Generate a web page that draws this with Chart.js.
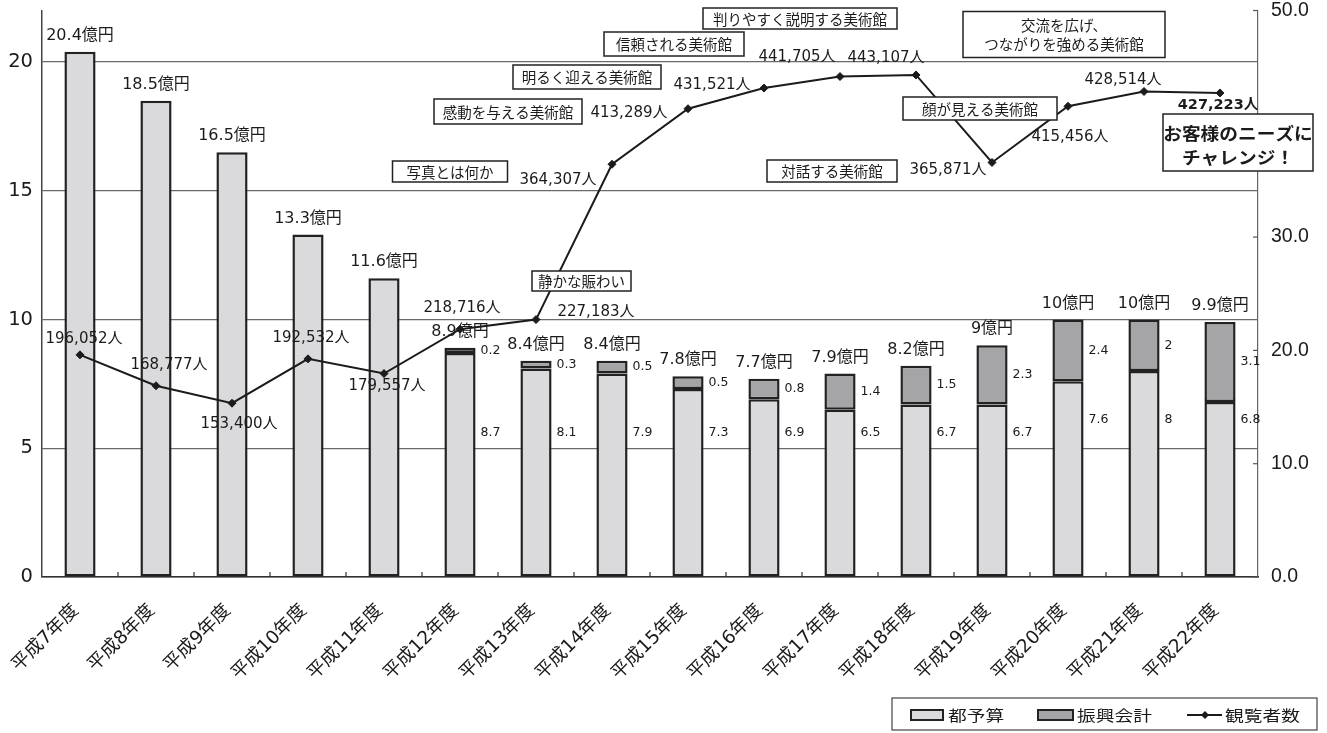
<!DOCTYPE html>
<html lang="ja">
<head>
<meta charset="utf-8">
<title>予算と観覧者数の推移</title>
<script src="https://cdn.jsdelivr.net/npm/chart.js@4.4.1/dist/chart.umd.min.js"></script>
<style>
  html, body { margin: 0; padding: 0; background: #fff; }
  #wrap { width: 1327px; height: 733px; }
</style>
</head>
<body>
<div id="wrap"><canvas id="chart" width="1327" height="733"></canvas></div>
<script>
// ---- data ----
const categories = ['平成7年度', '平成8年度', '平成9年度', '平成10年度', '平成11年度', '平成12年度',
  '平成13年度', '平成14年度', '平成15年度', '平成16年度', '平成17年度', '平成18年度',
  '平成19年度', '平成20年度', '平成21年度', '平成22年度'];
// 都予算 (億円)
const cityBudget = [20.4, 18.5, 16.5, 13.3, 11.6, 8.7, 8.1, 7.9, 7.3, 6.9, 6.5, 6.7, 6.7, 7.6, 8, 6.8];
// 振興会計 (億円)
const promotionFund = [null, null, null, null, null, 0.2, 0.3, 0.5, 0.5, 0.8, 1.4, 1.5, 2.3, 2.4, 2, 3.1];
// 観覧者数 (人)
const visitors = [196052, 168777, 153400, 192532, 179557, 218716, 227183, 364307,
  413289, 431521, 441705, 443107, 365871, 415456, 428514, 427223];
const leftTicks = [0, 5, 10, 15, 20];
const rightTicks = [0, 10, 20, 30, 40, 50];
// yearly themes
const themes = [
  ['静かな賑わい'],
  ['写真とは何か'],
  ['感動を与える美術館'],
  ['明るく迎える美術館'],
  ['信頼される美術館'],
  ['判りやすく説明する美術館'],
  ['対話する美術館'],
  ['顔が見える美術館'],
  ['交流を広げ、', 'つながりを強める美術館'],
  ['お客様のニーズに', 'チャレンジ！']
];
const legendLabels = ['都予算', '振興会計', '観覧者数'];

// ---- styles & layout ----
const INK = '#1b1b1b';
const NUM_FONT = '"DejaVu Sans", "Noto Sans CJK JP", sans-serif';
const ARIAL = '"Liberation Sans", "Noto Sans CJK JP", sans-serif';
const JP_FONT = '"Noto Sans CJK JP", sans-serif';
const LIGHT = '#dadadc';
const DARK = '#a5a5a7';
const PLOT = { left: 42, right: 1258, top: 10.5, bottom: 577 };

// label offsets around each visitor point (px)
const visitorLabelOffsets = [
  [4, -16], [13, -21], [7, 21], [3, -21], [3, 13], [2, -21], [60, -7], [-54, 16],
  [-59, 4], [-52, -3], [-43, -19], [-30, -17], [-44, 8], [2, 31], [-21, -11], [-2, 12]
];
// theme box placement (center x, center y, width, height)
const themeBoxLayout = [
  { cx: 581.5, cy: 281, w: 99, h: 20 },
  { cx: 450, cy: 171.5, w: 115, h: 21 },
  { cx: 508, cy: 111.5, w: 148, h: 25 },
  { cx: 587, cy: 77, w: 148, h: 24 },
  { cx: 674, cy: 44, w: 140, h: 24 },
  { cx: 800, cy: 18.5, w: 194, h: 21 },
  { cx: 832, cy: 171, w: 130, h: 22 },
  { cx: 980, cy: 108.5, w: 154, h: 23 },
  { cx: 1064, cy: 34.5, w: 202, h: 46, gap: 18.5 },
  { cx: 1238, cy: 142.5, w: 150, h: 57, gap: 24, shift: 2.5, bold: true, size: 17, sx: 1.1 }
];

function drawText(ctx, s, x, y, o) {
  ctx.save();
  ctx.translate(x, y);
  ctx.scale(o.sx || 1, 1);
  ctx.font = (o.bold ? 'bold ' : '') + o.size + 'px ' + (o.family || NUM_FONT);
  ctx.fillStyle = o.color || INK;
  ctx.textAlign = o.align || 'center';
  ctx.textBaseline = 'middle';
  ctx.fillText(s, 0, 0);
  ctx.restore();
}

function strokeLine(ctx, x1, y1, x2, y2) {
  ctx.beginPath();
  ctx.moveTo(x1, y1);
  ctx.lineTo(x2, y2);
  ctx.stroke();
}

function diamond(ctx, x, y, r) {
  ctx.beginPath();
  ctx.moveTo(x, y - r);
  ctx.lineTo(x + r, y);
  ctx.lineTo(x, y + r);
  ctx.lineTo(x - r, y);
  ctx.closePath();
  ctx.fill();
}

// scales keep exactly the plot box given above
function noPadding(s) {
  s.paddingTop = 0;
  s.paddingBottom = 0;
  s.paddingLeft = 0;
  s.paddingRight = 0;
}

const overlay = {
  id: 'overlay',
  afterDraw(chart) {
    const ctx = chart.ctx;
    const area = chart.chartArea;
    const { x, y, y1 } = chart.scales;

    ctx.save();
    ctx.strokeStyle = '#333';
    ctx.lineWidth = 1.2;
    // category ticks on the baseline, pointing up
    for (let i = 1; i < categories.length; i++) {
      const px = (x.getPixelForValue(i - 1) + x.getPixelForValue(i)) / 2;
      strokeLine(ctx, px, area.bottom, px, area.bottom - 5);
    }
    // inner ticks on the right axis
    ctx.strokeStyle = '#555';
    rightTicks.forEach(v => {
      const py = y1.getPixelForValue(v);
      strokeLine(ctx, area.right - 5, py, area.right, py);
    });
    ctx.restore();

    // bar labels
    const budgetMeta = chart.getDatasetMeta(1);
    categories.forEach((c, i) => {
      const bar = budgetMeta.data[i];
      const fund = promotionFund[i];
      const total = Math.round((cityBudget[i] + (fund || 0)) * 10) / 10;
      drawText(ctx, total + '億円', bar.x, y.getPixelForValue(total) - 16, { size: 16 });
      if (fund != null) {
        const lx = bar.x + bar.width / 2 + 5;
        drawText(ctx, String(cityBudget[i]), lx, y.getPixelForValue(i >= 13 ? 6.1 : 5.6),
          { size: 12.5, align: 'left' });
        drawText(ctx, String(fund), lx, y.getPixelForValue(cityBudget[i] + fund / 2),
          { size: 12.5, align: 'left' });
      }
    });

    // visitor labels
    const lineMeta = chart.getDatasetMeta(0);
    lineMeta.data.forEach((pt, i) => {
      const [dx, dy] = visitorLabelOffsets[i];
      drawText(ctx, visitors[i].toLocaleString('en-US') + '人', pt.x + dx, pt.y + dy,
        { size: i === 15 ? 14.5 : 15, bold: i === 15 });
    });

    // theme boxes
    themes.forEach((lines, k) => {
      const b = themeBoxLayout[k];
      ctx.save();
      ctx.fillStyle = '#fff';
      ctx.strokeStyle = '#222';
      ctx.lineWidth = 1.5;
      ctx.fillRect(b.cx - b.w / 2, b.cy - b.h / 2, b.w, b.h);
      ctx.strokeRect(b.cx - b.w / 2, b.cy - b.h / 2, b.w, b.h);
      ctx.restore();
      const gap = b.gap || 0;
      lines.forEach((s, j) => {
        const ly = b.cy + (b.shift || 0) + (j - (lines.length - 1) / 2) * gap;
        drawText(ctx, s, b.cx, ly + 0.5, {
          size: b.size || 14.5, bold: b.bold, sx: b.sx || 1, family: JP_FONT
        });
      });
    });

    // legend
    ctx.save();
    ctx.strokeStyle = '#444';
    ctx.lineWidth = 1.2;
    ctx.strokeRect(892, 698, 425, 32);
    const ly = 715;
    ctx.lineWidth = 2;
    ctx.strokeStyle = '#222';
    ctx.fillStyle = LIGHT;
    ctx.fillRect(911, 710, 32, 10);
    ctx.strokeRect(911, 710, 32, 10);
    ctx.fillStyle = DARK;
    ctx.fillRect(1038, 710, 35, 10);
    ctx.strokeRect(1038, 710, 35, 10);
    ctx.strokeStyle = INK;
    strokeLine(ctx, 1187, ly, 1222, ly);
    ctx.fillStyle = INK;
    diamond(ctx, 1205, ly, 4);
    ctx.restore();
    const legendX = [948, 1077, 1225];
    legendLabels.forEach((s, k) => {
      drawText(ctx, s, legendX[k], ly, { size: 15, sx: 1.25, align: 'left', family: JP_FONT });
    });
  }
};

const chart = new Chart(document.getElementById('chart'), {
  type: 'bar',
  data: {
    labels: categories,
    datasets: [
      {
        type: 'line',
        label: legendLabels[2],
        data: visitors.map(v => v / 10000),
        yAxisID: 'y1',
        order: 0,
        borderColor: INK,
        borderWidth: 2,
        pointStyle: 'rectRot',
        pointRadius: 4,
        pointBackgroundColor: INK,
        pointBorderColor: INK,
        pointBorderWidth: 1,
        tension: 0
      },
      {
        label: legendLabels[0],
        data: cityBudget,
        yAxisID: 'y',
        stack: 'budget',
        order: 1,
        backgroundColor: LIGHT,
        borderColor: '#222',
        borderWidth: 2.5,
        borderSkipped: false
      },
      {
        label: legendLabels[1],
        data: promotionFund,
        yAxisID: 'y',
        stack: 'budget',
        order: 2,
        backgroundColor: DARK,
        borderColor: '#222',
        borderWidth: 2.5,
        borderSkipped: false
      }
    ]
  },
  options: {
    responsive: false,
    animation: false,
    events: [],
    layout: { padding: { top: PLOT.top, left: 0, right: 0, bottom: 0 } },
    datasets: { bar: { barPercentage: 0.41, categoryPercentage: 1 } },
    plugins: { legend: { display: false }, tooltip: { enabled: false } },
    scales: {
      x: {
        stacked: true,
        offset: true,
        grid: { display: false, drawTicks: false },
        border: { color: '#333', width: 1.5 },
        ticks: {
          autoSkip: false, maxRotation: 45, minRotation: 45, padding: 23, labelOffset: -4,
          color: INK, font: { family: NUM_FONT, size: 18.5 }
        },
        afterFit(s) { s.height = 733 - PLOT.bottom; noPadding(s); }
      },
      y: {
        stacked: true,
        position: 'left',
        min: 0,
        max: 22,
        afterBuildTicks(s) { s.ticks = leftTicks.map(v => ({ value: v })); },
        grid: {
          color: c => (c.tick && c.tick.value === 0 ? '#333' : '#6a6a6a'),
          lineWidth: 1.2,
          drawTicks: false
        },
        border: { color: '#444', width: 1.5 },
        ticks: { padding: 9, color: INK, font: { family: NUM_FONT, size: 19.5 } },
        afterFit(s) { s.width = PLOT.left; noPadding(s); }
      },
      y1: {
        position: 'right',
        min: 0,
        max: 50,
        afterBuildTicks(s) { s.ticks = rightTicks.map(v => ({ value: v })); },
        grid: { display: false, drawTicks: false },
        border: { color: '#666', width: 1.2 },
        ticks: {
          padding: 13, color: INK, font: { family: ARIAL, size: 19.5 },
          callback: v => Number(v).toFixed(1)
        },
        afterFit(s) { s.width = 1327 - PLOT.right; noPadding(s); }
      }
    }
  },
  plugins: [overlay]
});

if (document.fonts && document.fonts.ready) {
  document.fonts.ready.then(() => chart.draw());
}
</script>
</body>
</html>
